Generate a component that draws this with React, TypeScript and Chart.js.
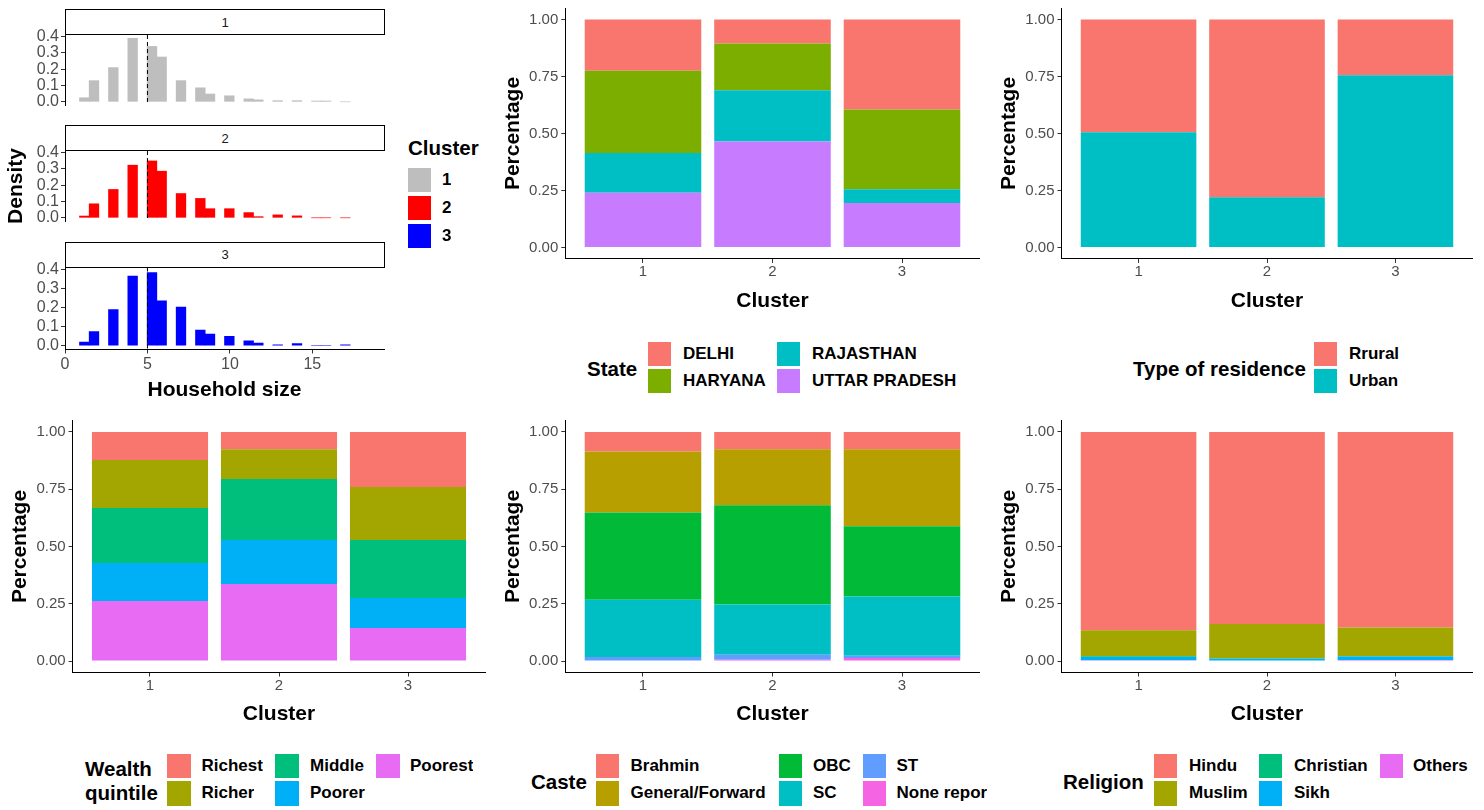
import React, { useEffect, useRef } from 'react';
import { Chart, registerables } from 'chart.js';
Chart.register(...registerables);

const FONT = '"Liberation Sans", Arial, Helvetica, sans-serif';
const TICK_COLOR = '#4D4D4D';
const TITLE_SIZE = 21;

// ---------------- data ----------------
const clusterLabels = ['1', '2', '3'];
const clusterPositions = [1, 2, 3];
const percentTicks = [0, 0.25, 0.5, 0.75, 1];
const densityTicks = [0, 0.1, 0.2, 0.3, 0.4];
const householdTicks = [0, 5, 10, 15];

// household sizes 1..17 and the centre of the histogram bin each one falls in
const householdSizes = [1, 2, 3, 4, 5, 6, 7, 8, 9, 10, 11, 12, 13, 14, 15, 16, 17];
const histBinCenters = [1.172, 1.759, 2.931, 4.103, 5.276, 5.862, 7.034, 8.207, 8.793, 9.966, 11.138, 11.724, 12.897, 14.069, 15.241, 15.828, 17.0];
const densityCluster1 = [0.025, 0.13, 0.21, 0.39, 0.34, 0.275, 0.13, 0.086, 0.048, 0.037, 0.018, 0.012, 0.007, 0.007, 0.005, 0.005, 0];
const densityCluster2 = [0.011, 0.086, 0.174, 0.323, 0.349, 0.286, 0.149, 0.119, 0.056, 0.056, 0.032, 0.007, 0.018, 0.012, 0, 0, 0];
const densityCluster3 = [0.019, 0.075, 0.19, 0.365, 0.384, 0.235, 0.203, 0.082, 0.061, 0.05, 0.026, 0.014, 0.005, 0.012, 0, 0, 0.005];
const histColors = ['#BEBEBE', '#FF0000', '#0000FF'];
const householdMean = 5;

const stateLabels = ['DELHI', 'HARYANA', 'RAJASTHAN', 'UTTAR PRADESH'];
const stateColors = ['#F8766D', '#7CAE00', '#00BFC4', '#C77CFF'];
const stateDelhi = [0.225, 0.105, 0.395];
const stateHaryana = [0.36, 0.205, 0.35];
const stateRajasthan = [0.175, 0.225, 0.06];
const stateUttarPradesh = [0.24, 0.465, 0.195];

const residenceLabels = ['Rrural', 'Urban'];
const residenceColors = ['#F8766D', '#00BFC4'];
const residenceRural = [0.495, 0.78, 0.245];
const residenceUrban = [0.505, 0.22, 0.755];

const wealthLabels = ['Richest', 'Richer', 'Middle', 'Poorer', 'Poorest'];
const wealthColors = ['#F8766D', '#A3A500', '#00BF7D', '#00B0F6', '#E76BF3'];
const wealthRichest = [0.122, 0.075, 0.24];
const wealthRicher = [0.21, 0.13, 0.232];
const wealthMiddle = [0.24, 0.267, 0.253];
const wealthPoorer = [0.166, 0.192, 0.131];
const wealthPoorest = [0.262, 0.336, 0.144];

const casteLabels = ['Brahmin', 'General/Forward', 'OBC', 'SC', 'ST', 'None reported'];
const casteColors = ['#F8766D', '#B79F00', '#00BA38', '#00BFC4', '#619CFF', '#F564E3'];
const casteBrahmin = [0.085, 0.076, 0.076];
const casteGeneral = [0.267, 0.244, 0.336];
const casteOBC = [0.38, 0.433, 0.306];
const casteSC = [0.25, 0.219, 0.259];
const casteST = [0.016, 0.022, 0.01];
const casteNone = [0.002, 0.006, 0.013];

const religionLabels = ['Hindu', 'Muslim', 'Christian', 'Sikh', 'Others'];
const religionColors = ['#F8766D', '#A3A500', '#00BF7D', '#00B0F6', '#E76BF3'];
const religionHindu = [0.866, 0.838, 0.854];
const religionMuslim = [0.113, 0.15, 0.124];
const religionChristian = [0.003, 0.002, 0.002];
const religionSikh = [0.014, 0.01, 0.015];
const religionOthers = [0.004, 0.0, 0.005];

// ---------------- helpers ----------------
type Box = { x: number; y: number; w: number; h: number };

function axisGrid() {
  return { display: true, offset: false, drawOnChartArea: false, drawTicks: true, tickLength: 4, tickColor: '#333333', tickWidth: 1 };
}
function axisBorder() {
  return { display: true, color: '#000000', width: 1 };
}
function titleFont() {
  return { family: FONT, size: TITLE_SIZE, weight: 'bold' as const, lineHeight: 1.2 };
}

const vlinePlugin = {
  id: 'vline',
  afterDatasetsDraw(chart: any) {
    const x = chart.scales.x.getPixelForValue(householdMean);
    const { top, bottom } = chart.chartArea;
    const ctx = chart.ctx;
    ctx.save();
    ctx.setLineDash([4, 3]);
    ctx.strokeStyle = '#000';
    ctx.lineWidth = 1;
    ctx.beginPath();
    ctx.moveTo(x, top);
    ctx.lineTo(x, bottom);
    ctx.stroke();
    ctx.restore();
  },
};

type Geom = { L: number; R: number; T: number; B: number; yTitleX: number; xTitleY: number };
type Series = { label: string; values: number[]; color: string };

function stackedSetup(series: Series[], g: Geom): { box: Box; config: any } {
  const LH = TITLE_SIZE * 1.2;
  const cx = Math.floor(g.yTitleX - LH / 2 - 3);
  const cy = Math.floor(g.T - 12);
  const cr = Math.ceil(g.R + 8);
  const cb = Math.ceil(g.xTitleY + LH / 2 + 3);
  const w = cr - cx;
  const h = cb - cy;
  const YW = g.L - cx;
  const XH = cb - g.B;
  const config = {
    type: 'bar',
    data: {
      datasets: series.map((s) => ({
        label: s.label,
        data: clusterPositions.map((x, i) => ({ x, y: s.values[i] })),
        backgroundColor: s.color,
        borderWidth: 0,
        barPercentage: 0.9,
        categoryPercentage: 1,
      })),
    },
    options: {
      animation: false,
      responsive: false,
      events: [],
      layout: { padding: { left: 0, top: g.T - cy, right: cr - g.R, bottom: 0 } },
      plugins: { legend: { display: false }, tooltip: { enabled: false } },
      scales: {
        x: {
          type: 'linear',
          min: 0.4,
          max: 3.6,
          offset: false,
          bounds: 'data',
          stacked: true,
          afterBuildTicks: (s: any) => {
            s.ticks = clusterPositions.map((v) => ({ value: v }));
          },
          afterFit: (s: any) => {
            s.height = XH;
          },
          ticks: {
            autoSkip: false,
            maxRotation: 0,
            padding: 0,
            color: TICK_COLOR,
            font: { family: FONT, size: 15 },
            callback: (_v: any, i: number) => clusterLabels[i],
          },
          grid: axisGrid(),
          border: axisBorder(),
          title: { display: true, text: 'Cluster', color: '#000', font: titleFont(), padding: { top: 0, bottom: cb - g.xTitleY - LH / 2 } },
        },
        y: {
          type: 'linear',
          min: -0.05,
          max: 1.05,
          stacked: true,
          afterBuildTicks: (s: any) => {
            s.ticks = percentTicks.map((v) => ({ value: v }));
          },
          afterFit: (s: any) => {
            s.width = YW;
          },
          ticks: {
            autoSkip: false,
            padding: 3,
            color: TICK_COLOR,
            font: { family: FONT, size: 15 },
            callback: (v: any) => Number(v).toFixed(2),
          },
          grid: axisGrid(),
          border: axisBorder(),
          title: { display: true, text: 'Percentage', color: '#000', font: titleFont(), padding: { top: g.yTitleX - cx - LH / 2, bottom: 0 } },
        },
      },
    },
  };
  return { box: { x: cx, y: cy, w, h }, config };
}

type Facet = { values: number[]; color: string; L: number; R: number; T: number; B: number; showX: boolean; yTitle: boolean };

function histSetup(f: Facet): { box: Box; config: any } {
  const LH = TITLE_SIZE * 1.2;
  const yTitleX = 16;
  const xTitleY = 390.5;
  const cx = 0;
  const cy = Math.floor(f.T - 12);
  const cr = Math.ceil(f.R + 10);
  const cb = f.showX ? Math.ceil(xTitleY + LH / 2 + 3) : Math.ceil(f.B + 12);
  const w = cr - cx;
  const h = cb - cy;
  const YW = f.L - cx;
  const XH = cb - f.B;
  const config = {
    type: 'bar',
    data: {
      datasets: [
        {
          label: 'Density',
          data: histBinCenters.map((x, i) => ({ x, y: f.values[i] })),
          backgroundColor: f.color,
          borderWidth: 0,
          barPercentage: 1,
          categoryPercentage: 1,
        },
      ],
    },
    options: {
      animation: false,
      responsive: false,
      events: [],
      layout: { padding: { left: 0, top: f.T - cy, right: cr - f.R, bottom: f.showX ? 0 : cb - f.B } },
      plugins: { legend: { display: false }, tooltip: { enabled: false } },
      scales: {
        x: {
          type: 'linear',
          display: f.showX,
          min: 0,
          max: 19.344,
          offset: false,
          bounds: 'data',
          afterBuildTicks: (s: any) => {
            s.ticks = householdTicks.map((v) => ({ value: v }));
          },
          afterFit: (s: any) => {
            s.height = XH;
          },
          ticks: {
            autoSkip: false,
            maxRotation: 0,
            padding: 1,
            color: TICK_COLOR,
            font: { family: FONT, size: 16 },
            callback: (v: any) => String(v),
          },
          grid: axisGrid(),
          border: axisBorder(),
          title: { display: true, text: 'Household size', color: '#000', font: titleFont(), padding: { top: 0, bottom: cb - xTitleY - LH / 2 } },
        },
        y: {
          type: 'linear',
          min: -0.0195,
          max: 0.41,
          afterBuildTicks: (s: any) => {
            s.ticks = densityTicks.map((v) => ({ value: v }));
          },
          afterFit: (s: any) => {
            s.width = YW;
          },
          ticks: {
            autoSkip: false,
            padding: 2,
            color: TICK_COLOR,
            font: { family: FONT, size: 16, lineHeight: 1 },
            callback: (v: any) => Number(v).toFixed(1),
          },
          grid: axisGrid(),
          border: axisBorder(),
          title: { display: f.yTitle, text: 'Density', color: '#000', font: titleFont(), padding: { top: yTitleX - cx - LH / 2, bottom: 0 } },
        },
      },
    },
    plugins: [vlinePlugin],
  };
  return { box: { x: cx, y: cy, w, h }, config };
}

function ChartCanvas({ setup }: { setup: { box: Box; config: any } }) {
  const ref = useRef<HTMLCanvasElement>(null);
  useEffect(() => {
    const chart = new Chart(ref.current as HTMLCanvasElement, setup.config);
    return () => chart.destroy();
  }, []);
  const b = setup.box;
  return (
    <canvas
      ref={ref}
      width={b.w}
      height={b.h}
      style={{ position: 'absolute', left: b.x, top: b.y, width: b.w, height: b.h, display: 'block' }}
    />
  );
}

function Strip({ text, top }: { text: string; top: number }) {
  return (
    <div
      style={{
        position: 'absolute',
        left: 65,
        top,
        width: 320,
        height: 26,
        boxSizing: 'border-box',
        border: '1.5px solid #000',
        background: '#fff',
        display: 'flex',
        alignItems: 'center',
        justifyContent: 'center',
        fontFamily: FONT,
        fontSize: 13,
        color: '#1A1A1A',
      }}
    >
      {text}
    </div>
  );
}

type LegendCol = { keyLeft: number; textLeft: number; items: { label: string; color: string }[]; clipRight?: number };
type LegendProps = { titleLines: string[]; titleLeft: number; titleCenters: number[]; rowTops: number[]; keyW: number; keyH: number; cols: LegendCol[] };

function Legend(p: LegendProps) {
  const TS = 20.5;
  const LS = 17;
  const els: any[] = [];
  p.titleLines.forEach((t, i) => {
    els.push(
      <div
        key={'t' + i}
        style={{
          position: 'absolute',
          left: p.titleLeft,
          top: p.titleCenters[i] - TS * 0.6,
          height: TS * 1.2,
          lineHeight: TS * 1.2 + 'px',
          fontFamily: FONT,
          fontWeight: 'bold',
          fontSize: TS,
          color: '#000',
          whiteSpace: 'nowrap',
        }}
      >
        {t}
      </div>
    );
  });
  p.cols.forEach((c, ci) => {
    c.items.forEach((it, ri) => {
      const top = p.rowTops[ri];
      els.push(
        <div key={`k${ci}-${ri}`} style={{ position: 'absolute', left: c.keyLeft, top, width: p.keyW, height: p.keyH, background: it.color }} />
      );
      els.push(
        <div
          key={`l${ci}-${ri}`}
          style={{
            position: 'absolute',
            left: c.textLeft,
            top,
            height: p.keyH,
            lineHeight: p.keyH + 'px',
            fontFamily: FONT,
            fontWeight: 'bold',
            fontSize: LS,
            color: '#000',
            whiteSpace: 'nowrap',
            overflow: 'hidden',
            width: c.clipRight ? c.clipRight - c.textLeft : undefined,
          }}
        >
          {it.label}
        </div>
      );
    });
  });
  return <>{els}</>;
}

function items(labels: string[], colors: string[], idx: number[]) {
  return idx.map((i) => ({ label: labels[i], color: colors[i] }));
}

// ---------------- app ----------------
export default function App() {
  useEffect(() => {
    document.body.style.margin = '0';
  }, []);

  const facets: Facet[] = [
    { values: densityCluster1, color: histColors[0], L: 65, R: 384, T: 35, B: 117, showX: false, yTitle: false },
    { values: densityCluster2, color: histColors[1], L: 65, R: 384, T: 151, B: 233, showX: false, yTitle: true },
    { values: densityCluster3, color: histColors[2], L: 65, R: 384, T: 267.5, B: 349.5, showX: true, yTitle: false },
  ];
  const stripTops = [9, 125, 241.5];

  const topY = { T: 8.1, B: 258.9, xTitleY: 301 };
  const botY = { T: 420.5, B: 672.5, xTitleY: 714 };
  const colMid = { L: 565.3, R: 979.7, yTitleX: 513 };
  const colRight = { L: 1061.5, R: 1472.5, yTitleX: 1009 };
  const colLeft = { L: 72.6, R: 485.4, yTitleX: 20 };

  const stateSeries: Series[] = [
    { label: stateLabels[3], values: stateUttarPradesh, color: stateColors[3] },
    { label: stateLabels[2], values: stateRajasthan, color: stateColors[2] },
    { label: stateLabels[1], values: stateHaryana, color: stateColors[1] },
    { label: stateLabels[0], values: stateDelhi, color: stateColors[0] },
  ];
  const residenceSeries: Series[] = [
    { label: residenceLabels[1], values: residenceUrban, color: residenceColors[1] },
    { label: residenceLabels[0], values: residenceRural, color: residenceColors[0] },
  ];
  const wealthSeries: Series[] = [
    { label: wealthLabels[4], values: wealthPoorest, color: wealthColors[4] },
    { label: wealthLabels[3], values: wealthPoorer, color: wealthColors[3] },
    { label: wealthLabels[2], values: wealthMiddle, color: wealthColors[2] },
    { label: wealthLabels[1], values: wealthRicher, color: wealthColors[1] },
    { label: wealthLabels[0], values: wealthRichest, color: wealthColors[0] },
  ];
  const casteSeries: Series[] = [
    { label: casteLabels[5], values: casteNone, color: casteColors[5] },
    { label: casteLabels[4], values: casteST, color: casteColors[4] },
    { label: casteLabels[3], values: casteSC, color: casteColors[3] },
    { label: casteLabels[2], values: casteOBC, color: casteColors[2] },
    { label: casteLabels[1], values: casteGeneral, color: casteColors[1] },
    { label: casteLabels[0], values: casteBrahmin, color: casteColors[0] },
  ];
  const religionSeries: Series[] = [
    { label: religionLabels[4], values: religionOthers, color: religionColors[4] },
    { label: religionLabels[3], values: religionSikh, color: religionColors[3] },
    { label: religionLabels[2], values: religionChristian, color: religionColors[2] },
    { label: religionLabels[1], values: religionMuslim, color: religionColors[1] },
    { label: religionLabels[0], values: religionHindu, color: religionColors[0] },
  ];

  const topRows = [342, 368.5];
  const botRows = [753.5, 781];

  return (
    <div style={{ position: 'absolute', left: 0, top: 0, width: 1484, height: 810, background: '#fff', overflow: 'hidden' }}>
      {facets.map((f, i) => (
        <ChartCanvas key={'h' + i} setup={histSetup(f)} />
      ))}
      {stripTops.map((t, i) => (
        <Strip key={'s' + i} text={clusterLabels[i]} top={t} />
      ))}
      <ChartCanvas setup={stackedSetup(stateSeries, { ...colMid, ...topY })} />
      <ChartCanvas setup={stackedSetup(residenceSeries, { ...colRight, ...topY })} />
      <ChartCanvas setup={stackedSetup(wealthSeries, { ...colLeft, ...botY })} />
      <ChartCanvas setup={stackedSetup(casteSeries, { ...colMid, ...botY })} />
      <ChartCanvas setup={stackedSetup(religionSeries, { ...colRight, ...botY })} />

      <Legend
        titleLines={['Cluster']}
        titleLeft={408}
        titleCenters={[148]}
        rowTops={[168, 196, 223.5]}
        keyW={23}
        keyH={24}
        cols={[{ keyLeft: 408, textLeft: 442, items: clusterLabels.map((l, i) => ({ label: l, color: histColors[i] })) }]}
      />
      <Legend
        titleLines={['State']}
        titleLeft={587}
        titleCenters={[369]}
        rowTops={topRows}
        keyW={23}
        keyH={24}
        cols={[
          { keyLeft: 648, textLeft: 683, items: items(stateLabels, stateColors, [0, 1]) },
          { keyLeft: 777, textLeft: 812, items: items(stateLabels, stateColors, [2, 3]) },
        ]}
      />
      <Legend
        titleLines={['Type of residence']}
        titleLeft={1133}
        titleCenters={[369]}
        rowTops={topRows}
        keyW={23}
        keyH={24}
        cols={[{ keyLeft: 1314, textLeft: 1349, items: items(residenceLabels, residenceColors, [0, 1]) }]}
      />
      <Legend
        titleLines={['Wealth', 'quintile']}
        titleLeft={85}
        titleCenters={[769, 793]}
        rowTops={botRows}
        keyW={23.5}
        keyH={24.5}
        cols={[
          { keyLeft: 167, textLeft: 201.5, items: items(wealthLabels, wealthColors, [0, 1]) },
          { keyLeft: 275, textLeft: 310, items: items(wealthLabels, wealthColors, [2, 3]) },
          { keyLeft: 376, textLeft: 410, items: items(wealthLabels, wealthColors, [4]) },
        ]}
      />
      <Legend
        titleLines={['Caste']}
        titleLeft={531}
        titleCenters={[782]}
        rowTops={botRows}
        keyW={22.5}
        keyH={24.5}
        cols={[
          { keyLeft: 596, textLeft: 630.5, items: items(casteLabels, casteColors, [0, 1]) },
          { keyLeft: 779, textLeft: 813, items: items(casteLabels, casteColors, [2, 3]) },
          { keyLeft: 863, textLeft: 896.5, items: items(casteLabels, casteColors, [4, 5]), clipRight: 987 },
        ]}
      />
      <Legend
        titleLines={['Religion']}
        titleLeft={1063}
        titleCenters={[782]}
        rowTops={botRows}
        keyW={22.5}
        keyH={24.5}
        cols={[
          { keyLeft: 1154, textLeft: 1189, items: items(religionLabels, religionColors, [0, 1]) },
          { keyLeft: 1259, textLeft: 1294, items: items(religionLabels, religionColors, [2, 3]) },
          { keyLeft: 1380, textLeft: 1413, items: items(religionLabels, religionColors, [4]) },
        ]}
      />
    </div>
  );
}
